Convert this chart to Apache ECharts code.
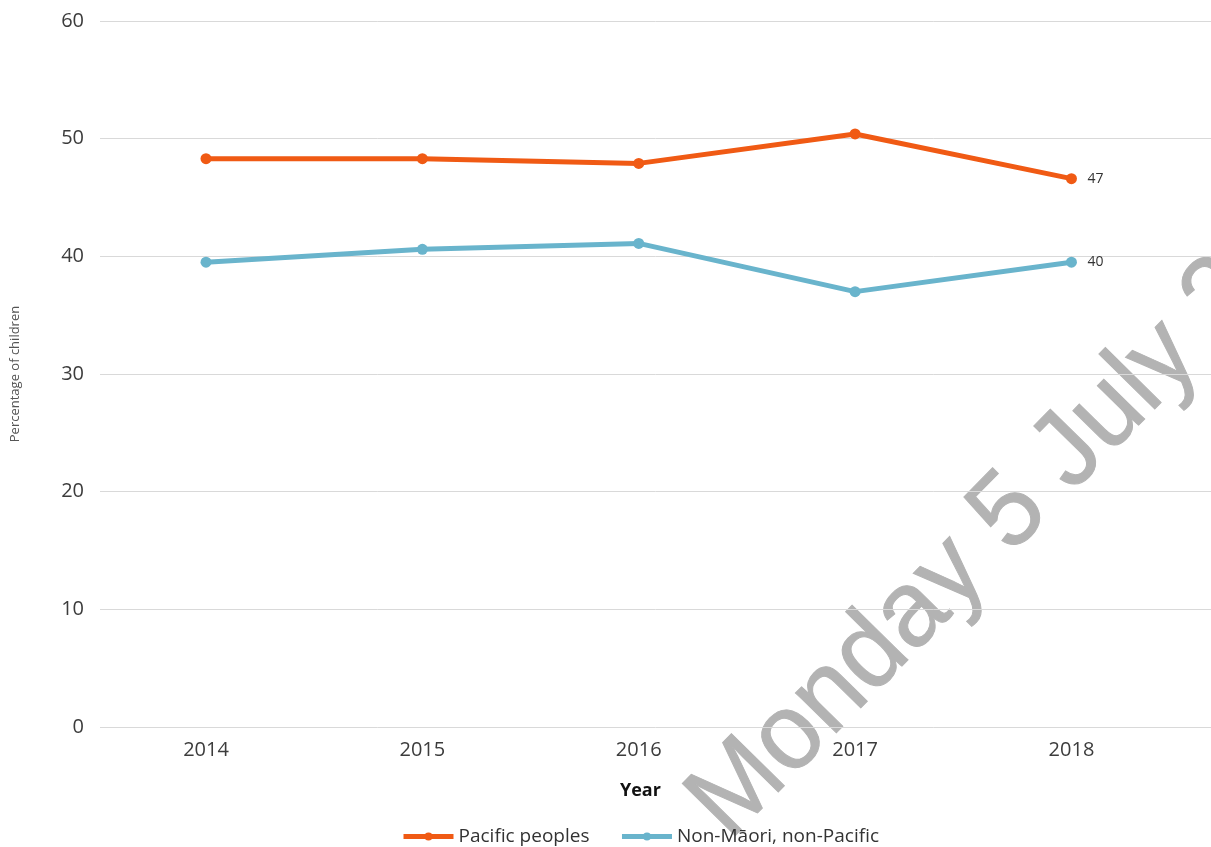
<!DOCTYPE html>
<html>
<head>
<meta charset="utf-8">
<script src="https://cdn.jsdelivr.net/npm/echarts@6/dist/echarts.min.js"></script>
<style>
  html, body { margin: 0; padding: 0; background: #fff; }
  #chart { width: 1211px; height: 847px; }
</style>
</head>
<body>
<div id="chart"></div>
<script>
const years = [2014, 2015, 2016, 2017, 2018];
const pacific = [48.3, 48.3, 47.9, 50.4, 46.6];
const nonMaoriNonPacific = [39.5, 40.6, 41.1, 37.0, 39.5];
const seriesNames = ['Pacific peoples', 'Non-Māori, non-Pacific'];
const colors = ['#f05a14', '#69b4cc'];

const FONT = '"Open Sans", "Noto Sans", sans-serif';
const pairs = (values) => values.map((v, i) => [years[i], v]);

const chart = echarts.init(document.getElementById('chart'));

function lineSeries(name, values, color) {
  return {
    name,
    type: 'line',
    data: pairs(values),
    color,
    symbol: 'circle',
    symbolSize: 11,
    lineStyle: { width: 5, color },
    itemStyle: { color },
    endLabel: {
      show: true,
      distance: 16,
      color: '#333',
      fontSize: 14,
      fontFamily: FONT,
      formatter: (p) => String(Math.round(p.value[1])),
    },
  };
}

const angle = 45.5 * Math.PI / 180;

chart.setOption({
  backgroundColor: '#fff',
  animation: false,
  grid: { left: 100, right: 0, top: 21, bottom: 120 },
  legend: {
    left: 396,
    top: 822,
    itemWidth: 50,
    itemHeight: 10,
    itemGap: 30,
    lineStyle: { width: 5 },
    textStyle: { fontSize: 19, color: '#333', fontFamily: FONT },
    data: seriesNames,
  },
  xAxis: {
    type: 'value',
    min: 2013.51,
    max: 2018.645,
    axisLine: { show: false },
    axisTick: { show: false },
    splitLine: { show: false },
    axisLabel: {
      customValues: years,
      formatter: (v) => String(v),
      margin: 13,
      fontSize: 20,
      color: '#3c3c3c',
      fontFamily: FONT,
    },
  },
  yAxis: {
    type: 'value',
    min: 0,
    max: 60,
    interval: 10,
    name: 'Percentage of children',
    nameLocation: 'middle',
    nameGap: 78,
    nameTextStyle: { fontSize: 13, color: '#555', fontFamily: FONT },
    axisLine: { show: false },
    axisTick: { show: false },
    axisLabel: { margin: 16, fontSize: 20, color: '#3c3c3c', fontFamily: FONT },
    splitLine: { lineStyle: { color: '#d9d9d9', width: 1 } },
  },
  series: [
    lineSeries(seriesNames[0], pacific, colors[0]),
    lineSeries(seriesNames[1], nonMaoriNonPacific, colors[1]),
  ],
  graphic: [
    {
      type: 'text',
      left: 620,
      top: 782,
      style: { text: 'Year', fontSize: 18, fontWeight: 'bold', fill: '#111', fontFamily: FONT },
    },
    {
      // diagonal date watermark
      type: 'text',
      x: 708,
      y: 821,
      rotation: angle,
      scaleX: 0.97,
      z: -1,
      silent: true,
      style: {
        text: 'Monday 5 July 2021',
        fontSize: 108,
        fontFamily: '"Liberation Sans", Arial, sans-serif',
        fill: '#b3b3b3',
        stroke: '#b3b3b3',
        lineWidth: 1,
        align: 'left',
        verticalAlign: 'middle',
      },
    },
  ],
});

window.addEventListener('resize', () => chart.resize());
</script>
</body>
</html>
